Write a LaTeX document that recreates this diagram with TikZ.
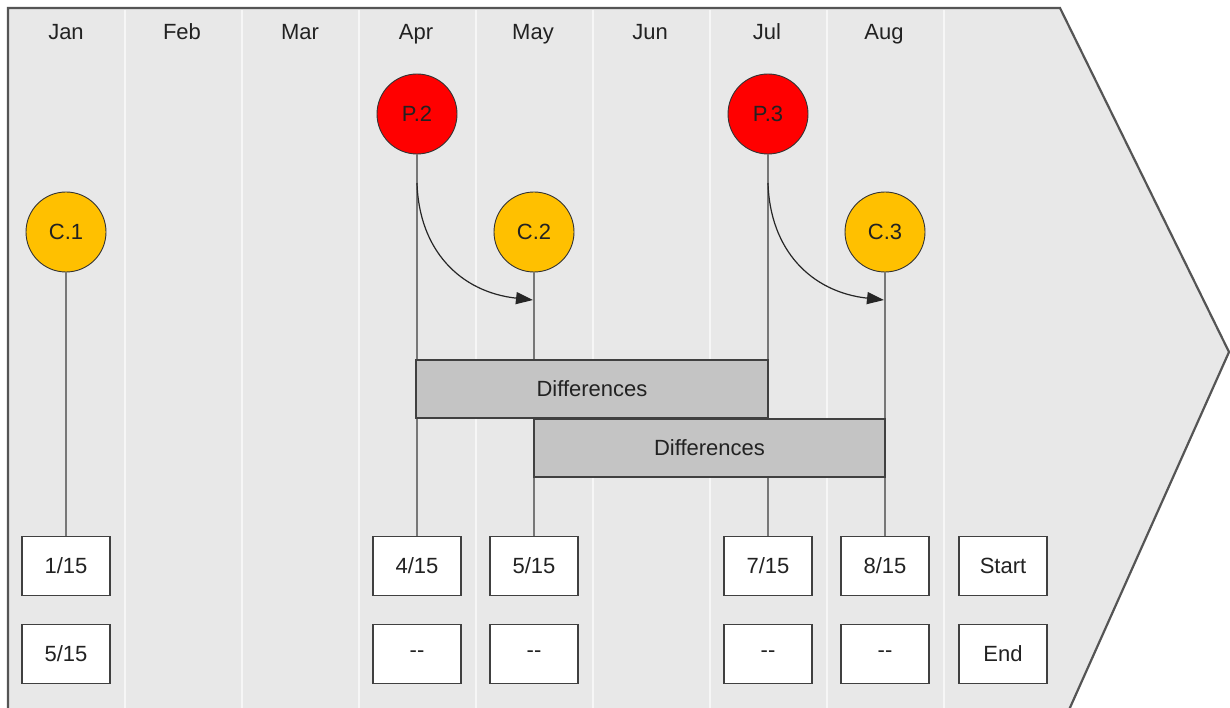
\documentclass[tikz,border=0pt]{standalone}
\usepackage{fontspec}
\setmainfont{Liberation Sans}
\usetikzlibrary{arrows.meta}
\definecolor{bgfill}{HTML}{E8E8E8}
\definecolor{frame}{HTML}{555555}
\definecolor{colline}{HTML}{F6F6F6}
\definecolor{vline}{HTML}{777777}
\definecolor{pred}{HTML}{FF0000}
\definecolor{cyel}{HTML}{FFC000}
\definecolor{diff}{HTML}{C4C4C4}
\definecolor{txt}{HTML}{222222}
\begin{document}
\begin{tikzpicture}[x=1pt,y=-1pt,
  every node/.style={font=\fontsize{22}{26}\selectfont, text=txt},
  month/.style={inner sep=0pt, text height=16pt, text depth=5pt},
  circp/.style={circle, draw=black!80, line width=0.9pt, fill=pred, minimum size=80pt, inner sep=0pt},
  circc/.style={circle, draw=black!80, line width=0.9pt, fill=cyel, minimum size=80pt, inner sep=0pt},
  datebox/.style={rectangle, draw=black!75, line width=1.5pt, fill=white, minimum width=88pt, minimum height=59pt, inner sep=0pt},
  diffbox/.style={rectangle, draw=black!75, line width=1.5pt, fill=diff, minimum height=58pt, inner sep=0pt},
  stem/.style={draw=vline, line width=2.4pt},
  curvearrow/.style={draw=black!85, line width=1.2pt, -{Triangle[length=17pt,width=12pt]}},
  sep/.style={draw=colline, line width=2pt}
]
\useasboundingbox (0,0) rectangle (1230,708);
% arrow-shaped background
\path[fill=bgfill, draw=frame, line width=2.2pt]
  (8,730) -- (8,8) -- (1060,8) -- (1229,352) -- (1060,730);
% column separators
\foreach \x in {125,242,359,476,593,710,827,944}
  \draw[sep] (\x,10) -- (\x,708);
% months
\foreach \m/\x in {Jan/66,Feb/182,Mar/300,Apr/416,May/533,Jun/650,Jul/767,Aug/884}
  \node[month] (m\m) at (\x,34) {\m};

% date boxes
\node[datebox] (d1) at (66,566) {1/15};
\node[datebox] (e1) at (66,654) {5/15};
\node[datebox] (d4) at (417,566) {4/15};
\node[datebox] (e4) at (417,654) {{-}{-}};
\node[datebox] (d5) at (534,566) {5/15};
\node[datebox] (e5) at (534,654) {{-}{-}};
\node[datebox] (d7) at (768,566) {7/15};
\node[datebox] (e7) at (768,654) {{-}{-}};
\node[datebox] (d8) at (885,566) {8/15};
\node[datebox] (e8) at (885,654) {{-}{-}};
\node[datebox] (ds) at (1003,566) {Start};
\node[datebox] (es) at (1003,654) {End};

% circles
\node[circp] (P2) at (417,114) {P.2};
\node[circp] (P3) at (768,114) {P.3};
\node[circc] (C1) at (66,232) {C.1};
\node[circc] (C2) at (534,232) {C.2};
\node[circc] (C3) at (885,232) {C.3};

% stems
\draw[stem] (C1.south) -- (d1.north);
\draw[stem] (P2.south) -- (d4.north);
\draw[stem] (C2.south) -- (d5.north);
\draw[stem] (P3.south) -- (d7.north);
\draw[stem] (C3.south) -- (d8.north);

% differences boxes
\node[diffbox, minimum width=352pt] (diffA) at (592,389) {Differences};
\node[diffbox, minimum width=351pt] (diffB) at (709.5,448) {Differences};

% curved arrows
\coordinate (a2s) at (417,183);
\coordinate (a2e) at (533,300);
\coordinate (a3s) at (768,183);
\coordinate (a3e) at (884,300);
\draw[curvearrow] (a2s) .. controls (419,250) and (460,292) .. (a2e);
\draw[curvearrow] (a3s) .. controls (770,250) and (811,292) .. (a3e);
\end{tikzpicture}
\end{document}
